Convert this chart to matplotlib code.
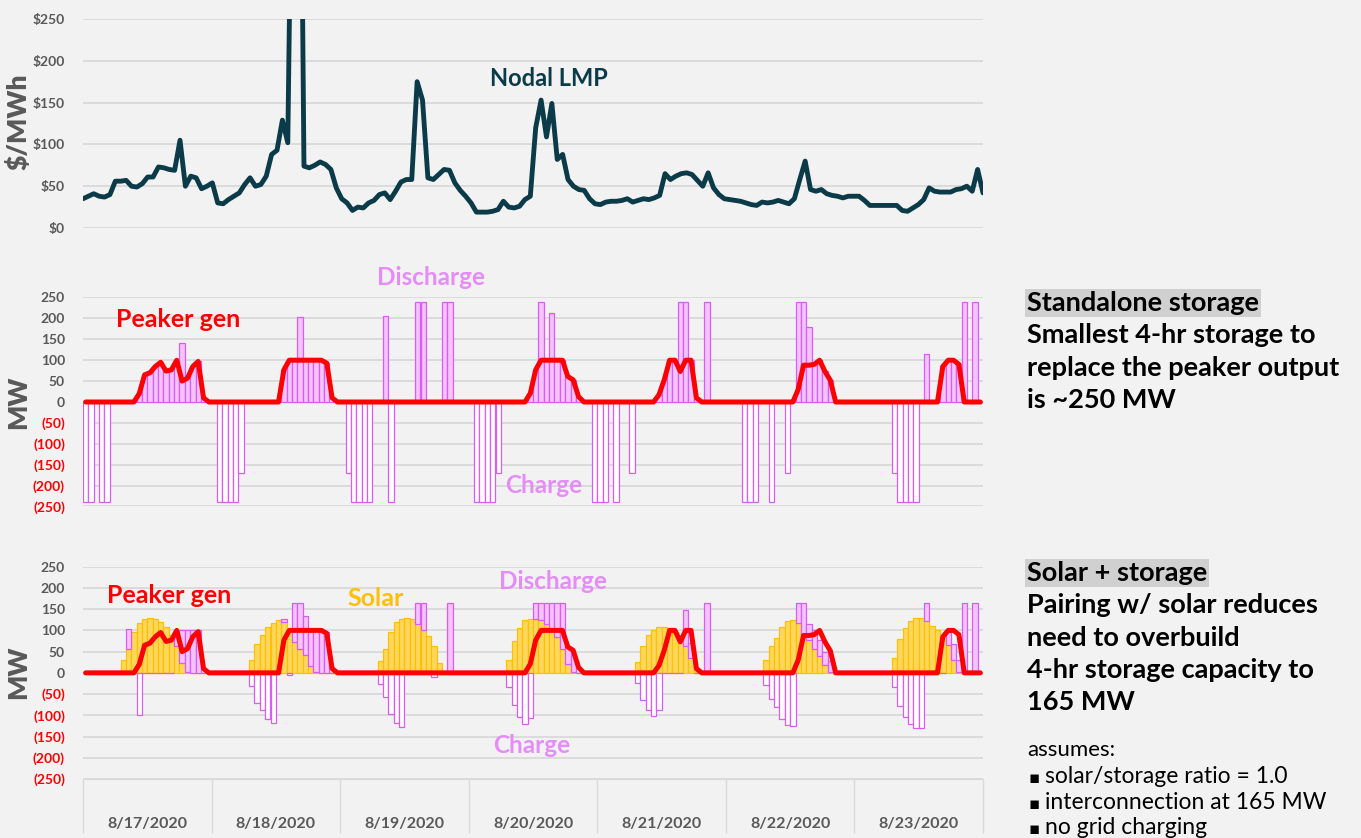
import matplotlib
matplotlib.use("Agg")
import matplotlib.pyplot as plt
from matplotlib.lines import Line2D
import numpy as np

plt.rcParams['font.family'] = ['Lato', 'DejaVu Sans']

# ---- data (hourly, 8/17/2020 00:00 .. 8/23/2020 23:00) ----
days = ['8/17/2020', '8/18/2020', '8/19/2020', '8/20/2020',
        '8/21/2020', '8/22/2020', '8/23/2020']

# nodal LMP, $/MWh
lmp = [35, 38, 41, 38, 37, 40, 56, 56, 57, 50, 49, 53, 61, 61, 73, 72, 70, 69, 105, 50, 62, 60, 47, 50,
       54, 30, 29, 34, 38, 42, 52, 60, 50, 52, 62, 88, 93, 129, 102, 600, 800, 74, 72, 75, 79, 76, 70, 48,
       35, 30, 21, 25, 24, 30, 33, 40, 42, 34, 44, 55, 58, 58, 175, 153, 60, 58, 64, 70, 69, 54, 45, 38,
       30, 19, 19, 19, 20, 22, 32, 25, 24, 26, 34, 38, 120, 153, 109, 149, 82, 88, 58, 50, 46, 45, 35, 29,
       28, 31, 32, 32, 33, 35, 31, 33, 35, 34, 36, 39, 65, 58, 62, 65, 66, 64, 57, 50, 66, 48, 40, 35,
       34, 33, 32, 30, 28, 27, 31, 30, 31, 33, 31, 29, 35, 58, 80, 46, 44, 46, 41, 39, 38, 36, 38, 38,
       38, 33, 27, 27, 27, 27, 27, 27, 21, 20, 24, 28, 34, 48, 44, 43, 43, 43, 46, 47, 50, 44, 70, 42]

# peaker generation, MW
peaker = [0, 0, 0, 0, 0, 0, 0, 0, 0, 0, 20, 65, 70, 85, 95, 74, 77, 100, 50, 57, 85, 97, 10, 0,
          0, 0, 0, 0, 0, 0, 0, 0, 0, 0, 0, 0, 0, 77, 100, 100, 100, 100, 100, 100, 100, 93, 10, 0,
          0, 0, 0, 0, 0, 0, 0, 0, 0, 0, 0, 0, 0, 0, 0, 0, 0, 0, 0, 0, 0, 0, 0, 0,
          0, 0, 0, 0, 0, 0, 0, 0, 0, 0, 0, 21, 77, 100, 100, 100, 100, 100, 61, 53, 13, 0, 0, 0,
          0, 0, 0, 0, 0, 0, 0, 0, 0, 0, 0, 17, 53, 100, 100, 73, 100, 100, 10, 0, 0, 0, 0, 0,
          0, 0, 0, 0, 0, 0, 0, 0, 0, 0, 0, 0, 0, 30, 88, 88, 90, 100, 73, 52, 0, 0, 0, 0,
          0, 0, 0, 0, 0, 0, 0, 0, 0, 0, 0, 0, 0, 0, 0, 0, 85, 100, 100, 90, 0, 0, 0, 0]

# standalone storage, MW (+ discharge / - charge)
storage_alone = [-240, -240, 0, -240, -240, 0, 0, 0, 0, 0, 20, 65, 70, 85, 95, 74, 77, 100, 140, 57, 85, 97, 8, 0,
                 0, -240, -240, -240, -240, -170, 0, 0, 0, 0, 0, 0, 0, 77, 100, 100, 203, 100, 100, 100, 100, 93, 0, 0,
                 0, -170, -240, -240, -240, -240, 0, 0, 205, -240, 0, 0, 0, 0, 240, 240, 0, 0, 0, 240, 240, 0, 0, 0,
                 0, -240, -240, -240, -240, -170, 0, 0, 0, 0, 0, 21, 77, 240, 100, 212, 100, 100, 61, 53, 13, 0, 0, -240,
                 -240, -240, 0, -240, 0, 0, -170, 0, 0, 0, 0, 17, 53, 100, 100, 240, 240, 100, 10, 0, 240, 0, 0, 0,
                 0, 0, 0, -240, -240, -240, 0, 0, -240, 0, 0, -170, 0, 240, 240, 180, 90, 100, 73, 52, 0, 0, 0, 0,
                 0, 0, 0, 0, 0, 0, 0, -170, -240, -240, -240, -240, 0, 114, 0, 0, 85, 100, 100, 90, 240, 0, 240, 0]

# solar output, MW
solar = [0, 0, 0, 0, 0, 0, 0, 30, 57, 97, 118, 128, 130, 128, 119, 108, 90, 64, 24, 3, 0, 0, 0, 0,
         0, 0, 0, 0, 0, 0, 0, 30, 69, 88, 108, 117, 124, 120, 100, 73, 57, 42, 16, 3, 0, 0, 0, 0,
         0, 0, 0, 0, 0, 0, 0, 27, 57, 97, 119, 128, 130, 128, 116, 100, 87, 64, 24, 2, 0, 0, 0, 0,
         0, 0, 0, 0, 0, 0, 0, 31, 75, 105, 124, 126, 126, 124, 116, 100, 85, 57, 22, 3, 0, 0, 0, 0,
         0, 0, 0, 0, 0, 0, 0, 25, 63, 89, 100, 107, 109, 106, 97, 85, 63, 34, 10, 2, 0, 0, 0, 0,
         0, 0, 0, 0, 0, 0, 0, 30, 63, 81, 108, 123, 124, 118, 90, 77, 57, 40, 18, 3, 0, 0, 0, 0,
         0, 0, 0, 0, 0, 0, 0, 34, 79, 106, 122, 130, 130, 122, 110, 100, 89, 65, 30, 3, 0, 0, 0, 0]

# solar-paired storage, MW (+ discharge stacked on solar / - charge)
storage_paired = [0, 0, 0, 0, 0, 0, 0, 0, 46, 0, -100, 0, 0, 0, 0, 0, 0, 23, 76, 97, 100, 100, 0, 0,
                  0, 0, 0, 0, 0, 0, 0, -30, -70, -88, -108, -118, 0, 6, -5, 92, 108, 92, 84, 97, 100, 97, 0, 0,
                  0, 0, 0, 0, 0, 0, 0, -27, -57, -98, -119, -128, 0, 0, 49, 65, 0, -10, 0, 0, 165, 0, 0, 0,
                  0, 0, 0, 0, 0, 0, 0, -33, -76, -105, -121, -107, 39, 41, 49, 65, 80, 108, 40, 40, 0, 0, 0, 0,
                  0, 0, 0, 0, 0, 0, 0, -25, -63, -88, -102, -88, 0, 0, 0, 0, 85, 36, 0, 0, 165, 0, 0, 0,
                  0, 0, 0, 0, 0, 0, 0, -29, -62, -81, -108, -123, -125, 47, 75, 39, 43, 37, 32, 25, 0, 0, 0, 0,
                  0, 0, 0, 0, 0, 0, 0, -33, -79, -105, -121, -130, -130, 43, 0, 0, 0, 32, 39, 27, 165, 0, 165, 0]

mw_ticks = [-250, -200, -150, -100, -50, 0, 50, 100, 150, 200, 250]
usd_ticks = [0, 50, 100, 150, 200, 250]

# ---- colours ----
BG = '#F2F2F2'
GRID = '#D9D9D9'
GREY_TXT = '#595959'
LMP_C = '#0B3B48'
RED = '#FF0000'
PINK = '#F3C3FA'
PINK_EDGE = '#DA5BF5'
PINK_TXT = '#E58CF8'
SOLAR = '#FFD75E'
SOLAR_EDGE = '#FFC000'

W, H = 1361, 838
fig = plt.figure(figsize=(W / 100, H / 100), dpi=100, facecolor=BG)


def px_axes(x0, y0, x1, y1):
    # axes placed by pixel box (top-left origin)
    return fig.add_axes([x0 / W, 1 - y1 / H, (x1 - x0) / W, (y1 - y0) / H])


def style(ax):
    ax.set_facecolor('none')
    for s in ax.spines.values():
        s.set_visible(False)
    ax.grid(axis='y', color=GRID, lw=1.3, zorder=0)
    ax.set_axisbelow(True)
    ax.tick_params(axis='y', length=0, pad=13, labelsize=10, labelcolor=GREY_TXT)
    ax.tick_params(axis='x', length=0, labelbottom=False)


def mw_labels(ax):
    labels = [f'({-v})' if v < 0 else str(v) for v in mw_ticks]
    ax.set_yticks(mw_ticks, labels)
    for lbl, v in zip(ax.get_yticklabels(), mw_ticks):
        lbl.set_fontweight('bold')
        lbl.set_color(RED if v < 0 else GREY_TXT)


hours = np.arange(len(lmp))
LBL = 17.5

# ---- top: nodal LMP ----
ax1 = px_axes(83, 19, 983, 228)
style(ax1)
ax1.plot(hours, lmp, color=LMP_C, lw=3.5, solid_joinstyle='round', solid_capstyle='round')
ax1.set_xlim(0, len(lmp) - 1)
ax1.set_ylim(0, 250)
ax1.set_yticks(usd_ticks, [r'\$' + str(v) for v in usd_ticks], fontweight='bold')
ax1.text(86.5, 179, 'Nodal LMP', color=LMP_C, fontsize=17, fontweight='bold',
         ha='center', va='center')

# ---- middle: standalone storage ----
sa = np.array(storage_alone)
ax2 = px_axes(83, 297.5, 983, 506.5)
style(ax2)
ax2.bar(hours, sa, width=1.0, color=np.where(sa < 0, 'white', PINK),
        edgecolor=PINK_EDGE, lw=0.9, zorder=2)
ax2.plot(hours, peaker, color=RED, lw=3.6, solid_joinstyle='round',
         solid_capstyle='round', zorder=3)
ax2.set_xlim(-0.5, len(hours) - 0.5)
ax2.set_ylim(-250, 250)
mw_labels(ax2)
ax2.text(17.2, 197, 'Peaker gen', color=RED, fontsize=18, fontweight='bold', ha='center', va='center')
ax2.text(64.4, 297, 'Discharge', color=PINK_TXT, fontsize=LBL, fontweight='bold', ha='center', va='center')
ax2.text(85.5, -200, 'Charge', color=PINK_TXT, fontsize=LBL, fontweight='bold', ha='center', va='center')

# ---- bottom: solar + storage ----
sp = np.array(storage_paired)
so = np.array(solar)
ax3 = px_axes(83, 566.7, 983, 779)
style(ax3)
ax3.bar(hours, so, width=1.0, color=SOLAR, edgecolor=SOLAR_EDGE, lw=0.9, zorder=2)
ax3.bar(hours, sp, width=1.0, bottom=np.where(sp > 0, so, 0),
        color=np.where(sp < 0, 'white', PINK), edgecolor=PINK_EDGE, lw=0.9, zorder=2)
ax3.plot(hours, peaker, color=RED, lw=3.6, solid_joinstyle='round',
         solid_capstyle='round', zorder=3)
ax3.set_xlim(-0.5, len(hours) - 0.5)
ax3.set_ylim(-250, 250)
mw_labels(ax3)
ax3.text(15.5, 183, 'Peaker gen', color=RED, fontsize=18, fontweight='bold', ha='center', va='center')
ax3.text(54.1, 176, 'Solar', color=SOLAR_EDGE, fontsize=18, fontweight='bold', ha='center', va='center')
ax3.text(87.2, 214, 'Discharge', color=PINK_TXT, fontsize=LBL, fontweight='bold', ha='center', va='center')
ax3.text(83.3, -170, 'Charge', color=PINK_TXT, fontsize=LBL, fontweight='bold', ha='center', va='center')

# date category axis
bounds = np.arange(len(days) + 1) * 24 - 0.5
centers = np.arange(len(days)) * 24 + 11.5
ax3.spines['bottom'].set_visible(True)
ax3.spines['bottom'].set_color(GRID)
ax3.set_xticks(bounds)
ax3.set_xticks(centers, minor=True)
ax3.set_xticklabels(days, minor=True)
ax3.tick_params(axis='x', which='major', length=39, width=1, color=GRID, labelbottom=False)
ax3.tick_params(axis='x', which='minor', length=0, pad=27, labelbottom=True,
                labelsize=11.5, labelcolor=GREY_TXT)
for lbl in ax3.get_xticklabels(minor=True):
    lbl.set_fontweight('bold')

# y axis titles
for y, s in [(122, r'\$/MWh'), (402, 'MW'), (672, 'MW')]:
    fig.text(18 / W, 1 - y / H, s, rotation=90, ha='center', va='center',
             fontsize=19, fontweight='heavy', color=GREY_TXT)

# ---- right-hand notes ----
XL = 1027 / W
NOTE = 19.5
heads = []


def note(y, s, **kw):
    return fig.text(XL, 1 - y / H, s, va='baseline', ha='left', color='black', **kw)


heads.append(note(311, 'Standalone storage', fontsize=NOTE, fontweight='bold',
                  bbox=dict(facecolor='#D0D0D0', edgecolor='none', pad=1.5)))
for y, s in zip([343, 376, 408], ['Smallest 4-hr storage to', 'replace the peaker output', 'is ~250 MW']):
    note(y, s, fontsize=NOTE, fontweight='bold')

heads.append(note(581, 'Solar + storage', fontsize=NOTE, fontweight='bold',
                  bbox=dict(facecolor='#D0D0D0', edgecolor='none', pad=1.5)))
for y, s in zip([613, 646, 678, 710], ['Pairing w/ solar reduces', 'need to overbuild',
                                       '4-hr storage capacity to', '165 MW']):
    note(y, s, fontsize=NOTE, fontweight='bold')

note(756, 'assumes:', fontsize=16)
for y, s in zip([783, 809, 834], ['solar/storage ratio = 1.0', 'interconnection at 165 MW',
                                  'no grid charging']):
    fig.text(1029 / W, 1 - y / H, '\u25aa', va='baseline', ha='left', fontsize=12,
             family=['DejaVu Sans'], color='black')
    fig.text(1045 / W, 1 - y / H, s, va='baseline', ha='left', fontsize=16.5, color='black')

# underline the two headings
fig.canvas.draw()
r = fig.canvas.get_renderer()
for t in heads:
    bb = t.get_window_extent(r).transformed(fig.transFigure.inverted())
    yb = t.get_position()[1] - 2.5 / H
    fig.add_artist(Line2D([bb.x0, bb.x1], [yb, yb], color='black', lw=1.8,
                          transform=fig.transFigure))

fig.savefig('out.png', dpi=100, facecolor=BG)
